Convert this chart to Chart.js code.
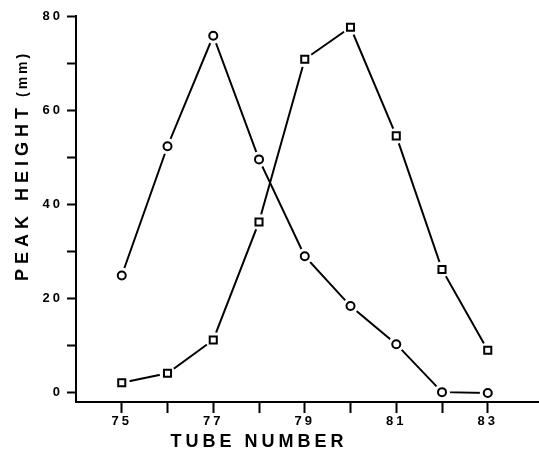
<!DOCTYPE html>
<html>
<head>
<meta charset="utf-8">
<script src="https://cdn.jsdelivr.net/npm/chart.js@4.4.1/dist/chart.umd.min.js"></script>
<style>
  html, body { margin: 0; padding: 0; background: #fff; overflow: hidden; }
  #wrap { width: 547px; height: 460px; }
</style>
</head>
<body>
<div id="wrap"><canvas id="peaks"></canvas></div>
<script>
// tube numbers and the two elution profiles (peak height in mm)
const tubes = [75, 76, 77, 78, 79, 80, 81, 82, 83];
const circleHeights = [24.8, 52.3, 75.8, 49.5, 28.9, 18.3, 10.2, 0, -0.2];
const squareHeights = [2.0, 4.0, 11.1, 36.2, 70.8, 77.6, 54.5, 26.1, 8.9];
const xTickLabels = [75, 77, 79, 81, 83];
const yTickLabels = [0, 20, 40, 60, 80];
const xTitle = 'TUBE NUMBER';
const yTitle = 'PEAK HEIGHT';
const yUnit = '(mm)';

const pts = vals => tubes.map((t, i) => ({ x: t, y: vals[i] }));

function lineSet(vals) {
	return { data: pts(vals), borderColor: '#000', borderWidth: 2, pointRadius: 0, tension: 0, order: 3 };
}
function haloSet(vals) {
	return { data: pts(vals), showLine: false, pointRadius: 8, pointBorderWidth: 0,
		pointBackgroundColor: '#fff', pointBorderColor: '#fff', order: 2 };
}
function markSet(vals, style, r) {
	return { data: pts(vals), showLine: false, pointStyle: style, pointRadius: r,
		pointBorderWidth: 2, pointBorderColor: '#000', pointBackgroundColor: '#fff', order: 1 };
}

const tickFont = { family: 'Liberation Sans', weight: 'bold', size: 13 };

const axisTitles = {
	id: 'axisTitles',
	beforeDraw(chart) {
		chart.ctx.letterSpacing = '3px';
	},
	afterDraw(chart) {
		const ctx = chart.ctx;
		ctx.save();
		ctx.fillStyle = '#000';
		ctx.textBaseline = 'middle';
		ctx.textAlign = 'center';
		ctx.font = 'bold 18px "Liberation Sans"';
		ctx.letterSpacing = '4px';
		ctx.fillText(xTitle, 259, 442);
		ctx.translate(23, 281);
		ctx.rotate(-Math.PI / 2);
		ctx.textAlign = 'left';
		ctx.font = 'bold 18px "Liberation Sans"';
		ctx.letterSpacing = '5px';
		ctx.fillText(yTitle, 0, 0);
		const w = ctx.measureText(yTitle).width;
		ctx.font = 'bold 14px "Liberation Sans"';
		ctx.letterSpacing = '3px';
		ctx.fillText(yUnit, w + 6, 0);
		ctx.restore();
	}
};

new Chart(document.getElementById('peaks'), {
	type: 'line',
	data: {
		datasets: [
			lineSet(circleHeights),
			lineSet(squareHeights),
			haloSet(circleHeights),
			haloSet(squareHeights),
			markSet(circleHeights, 'circle', 4),
			markSet(squareHeights, 'rect', 5)
		]
	},
	options: {
		responsive: true,
		maintainAspectRatio: false,
		animation: false,
		events: [],
		layout: { padding: { top: 16, right: 0, left: 0, bottom: 0 } },
		plugins: { legend: { display: false }, tooltip: { enabled: false } },
		scales: {
			x: {
				type: 'linear',
				min: 74,
				max: 84.12,
				afterBuildTicks: axis => { axis.ticks = tubes.map(v => ({ value: v })); },
				afterFit: scale => { scale.height = 58; },
				ticks: {
					color: '#000',
					font: tickFont,
					padding: 1,
					maxRotation: 0,
					callback: v => xTickLabels.includes(v) ? String(v) : ''
				},
				grid: { drawOnChartArea: false, tickLength: 11, tickColor: '#000', tickWidth: 2 },
				border: { color: '#000', width: 2 }
			},
			y: {
				min: -2.1,
				max: 80,
				afterBuildTicks: axis => {
					axis.ticks = [0, 10, 20, 30, 40, 50, 60, 70, 80].map(v => ({ value: v }));
				},
				afterFit: scale => { scale.width = 76; },
				ticks: {
					color: '#000',
					font: tickFont,
					padding: 4,
					callback: v => yTickLabels.includes(v) ? String(v) : ''
				},
				grid: { drawOnChartArea: false, tickLength: 9, tickColor: '#000', tickWidth: 2 },
				border: { color: '#000', width: 2 }
			}
		}
	},
	plugins: [axisTitles]
});
</script>
</body>
</html>
